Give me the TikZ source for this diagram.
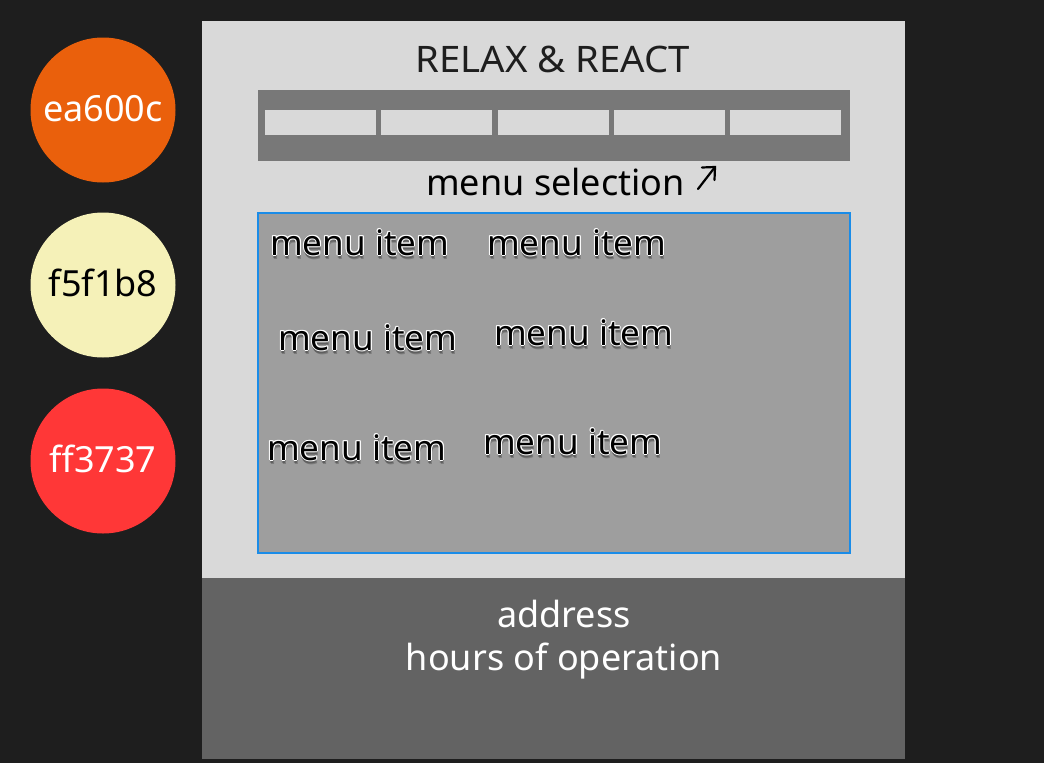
\documentclass[tikz,border=0pt]{standalone}
\usepackage{fontspec}
\setmainfont{Noto Sans}
\newfontfamily\titlefont[FakeStretch=1.05]{Noto Sans}
\definecolor{bgdark}{HTML}{1E1E1E}
\definecolor{panelc}{HTML}{D9D9D9}
\definecolor{barc}{HTML}{787878}
\definecolor{menuc}{HTML}{9E9E9E}
\definecolor{selblue}{HTML}{1A8CE8}
\definecolor{footc}{HTML}{636363}
\definecolor{orangec}{HTML}{EA600C}
\definecolor{yellowc}{HTML}{F5F1B8}
\definecolor{redc}{HTML}{FF3737}
\definecolor{titlec}{HTML}{1E1E1E}
\tikzset{
  box/.style={anchor=north west, inner sep=0pt, outer sep=0pt},
  tabbox/.style={box, fill=panelc, minimum width=111pt, minimum height=25pt},
  swatch/.style={circle, inner sep=0pt, minimum size=145pt, text depth=4pt, font=\fontsize{36}{42}\selectfont},
  mitem/.style={anchor=base west, inner sep=0pt, text=black, font=\fontsize{35}{40}\selectfont},
  mhalo/.style={mitem, text=white},
  mshadow/.style={mitem, text=black, opacity=0.22},
  foottext/.style={anchor=base, inner sep=0pt, text=white, font=\fontsize{36}{40}\selectfont},
}
\newcommand\menuitemat[3]{%
  \node[mshadow] at (#2+1,#3+4) {menu item};
  \node[mshadow] at (#2,#3+3) {menu item};
  \foreach \dx/\dy in {-1/0,1/0,0/-1,0/1,-0.8/-0.8,0.8/0.8,-0.8/0.8,0.8/-0.8}
    \node[mhalo] at (#2+\dx,#3+\dy) {menu item};
  \node[mitem] (#1) at (#2,#3) {menu item};
}
\begin{document}
\begin{tikzpicture}[x=1pt,y=-1pt]
\fill[bgdark] (0,0) rectangle (1044,763);
\useasboundingbox (0,0) rectangle (1044,763);
% page
\node[box, fill=panelc, minimum width=703pt, minimum height=557pt] (page) at (202,21) {};
\node[box, fill=footc, minimum width=703pt, minimum height=181pt] (footer) at (202,578) {};
% title
\node[anchor=base, inner sep=0pt, text=titlec, font=\titlefont\fontsize{36.5}{40}\selectfont] (title) at (553,72) {RELAX \& REACT};
% menu bar
\node[box, fill=barc, minimum width=592pt, minimum height=71pt] (bar) at (258,90) {};
\node[tabbox] (t1) at (265,110) {};
\node[tabbox] (t2) at (381,110) {};
\node[tabbox] (t3) at (498,110) {};
\node[tabbox] (t4) at (614,110) {};
\node[tabbox] (t5) at (730,110) {};
% menu selection
\node[anchor=base west, inner sep=0pt, text=black, font=\fontsize{36}{40}\selectfont] (sel) at (426,195) {menu selection};
\coordinate (arA) at (698,189);
\coordinate (arB) at (715,167);
\coordinate (arH1) at (702,167.5);
\coordinate (arH2) at (714.5,180);
\draw[line width=2.2pt, line cap=round] (arA) -- (arB);
\draw[line width=2.2pt, line cap=round, line join=miter] (arH1) -- (arB) -- (arH2);
% menu area
\node[box, fill=menuc, draw=selblue, line width=1.5pt, minimum width=592pt, minimum height=340pt] (menu) at (258,213) {};
\menuitemat{m1}{270}{255}
\menuitemat{m2}{487}{255}
\menuitemat{m3}{278}{350}
\menuitemat{m4}{494}{345}
\menuitemat{m5}{267}{460}
\menuitemat{m6}{483}{454}
% footer text
\node[foottext] (addr) at (564,627) {address};
\node[foottext] (hours) at (564,670) {hours of operation};
% swatches
\node[swatch, fill=orangec, text=white] (c1) at (103,110) {ea600c};
\node[swatch, fill=yellowc, text=black] (c2) at (103,285) {f5f1b8};
\node[swatch, fill=redc, text=white] (c3) at (103,461) {ff3737};
\end{tikzpicture}
\end{document}
